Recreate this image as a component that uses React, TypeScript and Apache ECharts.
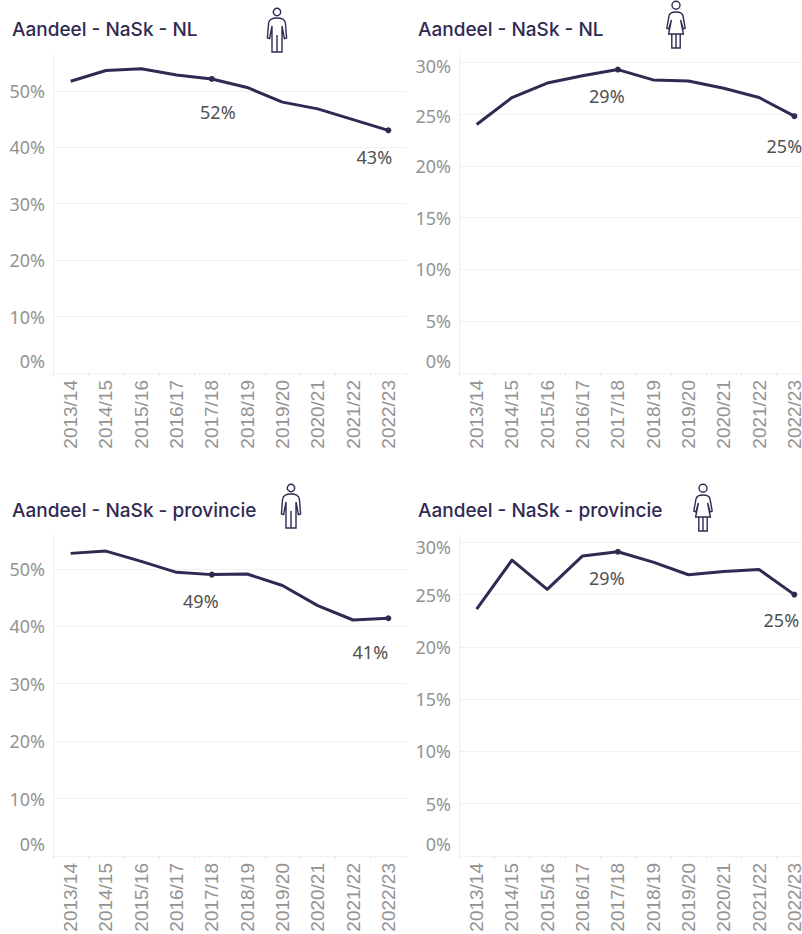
import React, { useEffect, useRef } from "react";
import * as echarts from "echarts";

const seasons = ["2013/14", "2014/15", "2015/16", "2016/17", "2017/18", "2018/19", "2019/20", "2020/21", "2021/22", "2022/23"];
const titleNL = "Aandeel - NaSk - NL";
const titleProv = "Aandeel - NaSk - provincie";
const nlMen = [51.7, 53.6, 53.9, 52.8, 52.1, 50.6, 48.0, 46.8, 44.9, 43.0];
const nlWomen = [24.0, 26.6, 28.0, 28.7, 29.3, 28.3, 28.2, 27.5, 26.6, 24.8];
const provMen = [52.7, 53.1, 51.3, 49.4, 49.0, 49.1, 47.1, 43.6, 41.1, 41.4];
const provWomen = [23.6, 28.3, 25.5, 28.7, 29.1, 28.1, 26.9, 27.2, 27.4, 25.0];

const DARK = "#2f2a52";
const AXIS_GREY = "#939393";
const GRID = "#f1f1f1";
const LABEL_FONT = "'Noto Sans', sans-serif";

const MAN =
  "M13.7 4 A3.7 3.7 0 1 1 6.3 4 A3.7 3.7 0 1 1 13.7 4 Z " +
  "M10 10 C5 10 2.2 11.5 1.6 15 L0.4 30 L2.6 30.6 L5 18 L5 44 L15 44 L15 18 L17.4 30.6 L19.6 30 L18.4 15 C17.8 11.5 15 10 10 10 Z " +
  "M10 27 L10 44";
const WOMAN =
  "M14 4.2 A4 4 0 1 1 6 4.2 A4 4 0 1 1 14 4.2 Z " +
  "M10 11 C6 11 3.5 12 3 15 L0.8 27 L2.8 28 L5.4 19 L2.6 33 L17.4 33 L14.6 19 L17.2 28 L19.2 27 L17 15 C16.5 12 14 11 10 11 Z " +
  "M5.8 33 L5.8 47 L14.2 47 L14.2 33 M10 33 L10 47";

echarts.graphic.registerShape("manIcon", echarts.graphic.extendPath(MAN, {}) as any);
echarts.graphic.registerShape("womanIcon", echarts.graphic.extendPath(WOMAN, {}) as any);

const panels = [
  { title: titleNL, tx: 12, ty: 20, left: 53, top: 53, h: 320, max: 56.7, step: 10, vals: nlMen, icon: "manIcon", ix: 267, iy: 8,
    off4: [6, 33], off9: [-14, 27], shift: {} as Record<number, number> },
  { title: titleNL, tx: 418, ty: 20, left: 459, top: 53, h: 320, max: 30.9, step: 5, vals: nlWomen, icon: "womanIcon", ix: 666, iy: 1,
    off4: [-11, 26], off9: [-10, 30], shift: { 30: 4, 25: 2 } as Record<number, number> },
  { title: titleProv, tx: 12, ty: 501, left: 53, top: 535, h: 321, max: 55.9, step: 10, vals: provMen, icon: "manIcon", ix: 281, iy: 484,
    off4: [-11, 26], off9: [-18, 34], shift: {} as Record<number, number> },
  { title: titleProv, tx: 418, ty: 501, left: 459, top: 535, h: 321, max: 30.7, step: 5, vals: provWomen, icon: "womanIcon", ix: 693, iy: 484,
    off4: [-11, 26], off9: [-13, 25], shift: { 30: 5 } as Record<number, number> },
];
const BAND_TOTAL = 353;

export default function App() {
  const ref = useRef<HTMLDivElement>(null);
  useEffect(() => {
    const chart = echarts.init(ref.current!, undefined, { renderer: "svg" });
    const rich: Record<string, any> = {};
    const base = { fontFamily: LABEL_FONT, fontSize: 18, color: AXIS_GREY };
    rich.zero = { ...base, padding: [0, 0, 24, 0] };
    rich.d2 = { ...base, padding: [4, 0, 0, 0] };
    rich.d4 = { ...base, padding: [8, 0, 0, 0] };
    rich.d5 = { ...base, padding: [10, 0, 0, 0] };
    chart.setOption({
      animation: false,
      backgroundColor: "#ffffff",
      title: panels.map((p) => ({
        text: p.title,
        left: p.tx,
        top: p.ty,
        padding: 0,
        textStyle: { fontFamily: "Inter, sans-serif", fontSize: 19, fontWeight: 500, color: DARK },
      })),
      grid: panels.map((p) => ({
        left: p.left,
        top: p.top,
        width: BAND_TOTAL,
        height: p.h,
        containLabel: false,
        outerBoundsMode: "none",
      })),
      xAxis: panels.map((_, i) => ({
        type: "category",
        gridIndex: i,
        data: seasons,
        boundaryGap: true,
        axisLine: { show: true, lineStyle: { color: GRID, width: 1 } },
        axisTick: { show: true, length: 3, lineStyle: { color: "#e8e8e8" } },
        axisLabel: {
          rotate: 90,
          interval: 0,
          margin: 7,
          fontFamily: "'Liberation Sans', Arial, sans-serif",
          fontSize: 19,
          color: AXIS_GREY,
          hideOverlap: false,
        },
        splitLine: { show: false },
      })),
      yAxis: panels.map((p, i) => ({
        type: "value",
        gridIndex: i,
        min: 0,
        max: p.max,
        interval: p.step,
        axisLine: { show: true, lineStyle: { color: GRID, width: 1 } },
        axisTick: { show: false },
        splitLine: { show: true, showMaxLine: false, showMinLine: false, lineStyle: { color: GRID, width: 1 } },
        axisLabel: {
          margin: 8,
          showMaxLabel: false,
          fontFamily: LABEL_FONT,
          fontSize: 18,
          color: AXIS_GREY,
          rich,
          formatter: (v: number) => {
            if (v === 0) return "{zero|0%}";
            const s = p.shift[v];
            return s ? `{d${s}|${v}%}` : `${v}%`;
          },
        },
      })),
      series: panels.map((p, i) => ({
        type: "line",
        xAxisIndex: i,
        yAxisIndex: i,
        symbol: "none",
        showAllSymbol: true,
        clip: false,
        lineStyle: { color: DARK, width: 3, join: "round" },
        itemStyle: { color: DARK },
        data: p.vals.map((v, k) =>
          k === 4 || k === 9
            ? {
                value: v,
                symbol: "circle",
                symbolSize: 6,
                label: {
                  show: true,
                  position: "inside",
                  offset: k === 4 ? p.off4 : p.off9,
                  formatter: `${Math.round(v)}%`,
                  fontFamily: LABEL_FONT,
                  fontSize: 18,
                  color: "#505050",
                },
              }
            : v
        ),
      })),
      graphic: panels.map((p) => ({
        type: p.icon,
        x: p.ix,
        y: p.iy,
        silent: true,
        style: { fill: "none", stroke: DARK, lineWidth: 1.4 },
      })),
    });
    return () => chart.dispose();
  }, []);
  return <div ref={ref} style={{ position: "absolute", left: 0, top: 0, width: 802, height: 934 }} />;
}
